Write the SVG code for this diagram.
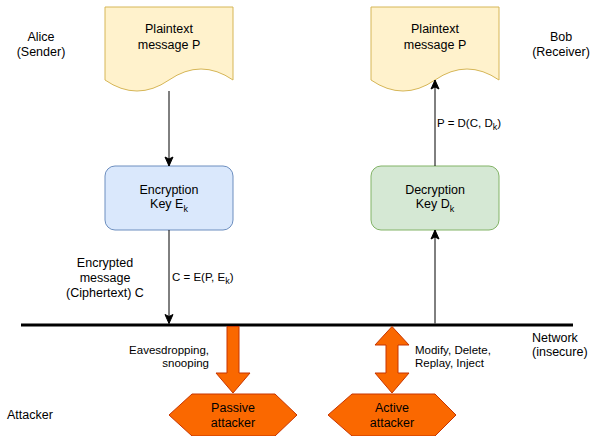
<svg xmlns="http://www.w3.org/2000/svg" width="591" height="436" viewBox="0 0 591 436">
<style>
text{font-family:"Liberation Sans",Arial,Helvetica,sans-serif;fill:#000}
.t{font-size:12.5px}
.e{font-size:11.5px}
.m{text-anchor:middle}
.r{text-anchor:end}
.sub{font-size:9px}
.doc{fill:#fff2cc;stroke:#d6b656;stroke-width:1}
.enc{fill:#dae8fc;stroke:#6c8ebf;stroke-width:1}
.dec{fill:#d5e8d4;stroke:#82b366;stroke-width:1}
.org{fill:#fa6800;stroke:#c73500;stroke-width:1}
.ln{stroke:#000;stroke-width:1;fill:none}
</style>
<defs>
<marker id="arr" markerUnits="userSpaceOnUse" markerWidth="12" markerHeight="10" viewBox="-10 -5 11 10" refX="0" refY="0" orient="auto">
<path d="M0,0 L-9,-4 L-7,0 L-9,4 Z" fill="#000" stroke="#000" stroke-width="1"/>
</marker>
</defs>
<rect width="591" height="436" fill="#fff"/>

<g id="alice"><text class="t m" x="41" y="41">Alice</text><text class="t m" x="41" y="56">(Sender)</text></g>
<g id="bob"><text class="t m" x="561" y="41">Bob</text><text class="t m" x="561" y="56">(Receiver)</text></g>

<g id="plain-left">
<path class="doc" d="M105,7 H233 V80 Q201,58 169,80 Q137,102 105,80 Z"/>
<text class="t m" x="169" y="33">Plaintext</text>
<text class="t m" x="169" y="49">message P</text>
</g>
<g id="plain-right">
<path class="doc" d="M371,7 H499 V80 Q467,58 435,80 Q403,102 371,80 Z"/>
<text class="t m" x="435" y="33">Plaintext</text>
<text class="t m" x="435" y="49">message P</text>
</g>

<g id="encryption">
<rect class="enc" x="105" y="166" width="128" height="64" rx="10"/>
<text class="t m" x="169" y="194">Encryption</text>
<text class="t m" x="169" y="208">Key E<tspan class="sub" dy="3.5">k</tspan></text>
</g>
<g id="decryption">
<rect class="dec" x="371" y="166" width="128" height="64" rx="10"/>
<text class="t m" x="435" y="194">Decryption</text>
<text class="t m" x="435" y="208">Key D<tspan class="sub" dy="3.5">k</tspan></text>
</g>

<g id="network">
<line x1="21" y1="325" x2="573" y2="325" stroke="#000" stroke-width="3"/>
<text class="t" x="532" y="342">Network</text>
<text class="t" x="532" y="356">(insecure)</text>
</g>

<g id="connectors">
<path class="ln" d="M169,91 V166" marker-end="url(#arr)"/>
<path class="ln" d="M169,230 V323.5" marker-end="url(#arr)"/>
<path class="ln" d="M435,323.5 V230" marker-end="url(#arr)"/>
<path class="ln" d="M435,166 V80" marker-end="url(#arr)"/>
<text class="e" x="437" y="127">P = D(C, D<tspan class="sub" dy="3">k</tspan><tspan dy="-3">)</tspan></text>
<text class="e" x="172" y="281">C = E(P, E<tspan class="sub" dy="3">k</tspan><tspan dy="-3">)</tspan></text>
<polygon class="org" points="227,326.5 239,326.5 239,373 250,373 233,393 216,373 227,373"/>
<polygon class="org" points="392,326.5 409,345 398,345 398,373 409,373 392,393 375,373 386,373 386,345 375,345"/>
<text class="e r" x="209" y="354">Eavesdropping,</text>
<text class="e r" x="209" y="367">snooping</text>
<text class="e" x="415" y="354">Modify, Delete,</text>
<text class="e" x="415" y="367">Replay, Inject</text>
</g>

<g id="ciphertext-label">
<text class="t m" x="105" y="267">Encrypted</text>
<text class="t m" x="105" y="282">message</text>
<text class="t m" x="105" y="297">(Ciphertext) C</text>
</g>

<g id="attacker-label"><text class="t" x="7" y="419">Attacker</text></g>

<g id="passive">
<polygon class="org" points="169,415 192,394 275,394 297,415 275,436 192,436"/>
<text class="t m" x="233" y="412">Passive</text>
<text class="t m" x="233" y="427">attacker</text>
</g>
<g id="active">
<polygon class="org" points="328,415 352,394 435,394 456,415 435,436 352,436"/>
<text class="t m" x="392" y="412">Active</text>
<text class="t m" x="392" y="427">attacker</text>
</g>
</svg>
